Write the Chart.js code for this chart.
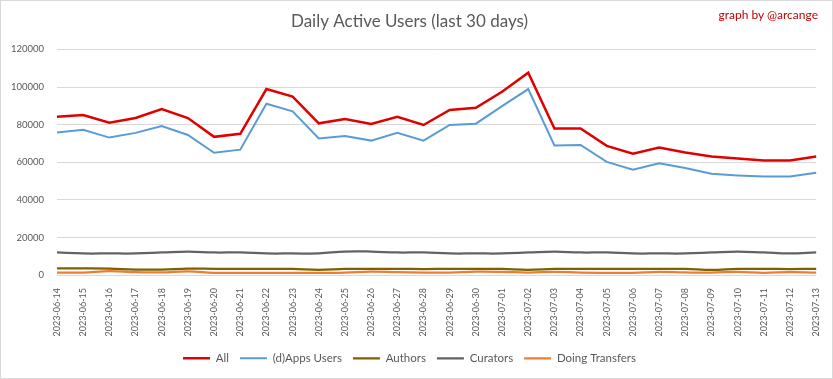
<!DOCTYPE html>
<html>
<head>
<meta charset="utf-8">
<script src="https://cdn.jsdelivr.net/npm/chart.js@4/dist/chart.umd.min.js"></script>
<style>
  html, body { margin: 0; padding: 0; background: #fff; }
  #wrap { position: relative; width: 833px; height: 379px; box-sizing: border-box; border: 1px solid #d9d9d9; background: #fff; }
  #credit { position: absolute; right: 14px; top: 6px; font-family: Lato, sans-serif; font-size: 12px; color: #c00000; }
  canvas { display: block; }
</style>
</head>
<body>
<div id="wrap">
  <canvas id="c" width="831" height="377"></canvas>
  <div id="credit">graph by @arcange</div>
</div>
<script>
const categories = [
  "2023-06-14","2023-06-15","2023-06-16","2023-06-17","2023-06-18","2023-06-19","2023-06-20","2023-06-21","2023-06-22","2023-06-23",
  "2023-06-24","2023-06-25","2023-06-26","2023-06-27","2023-06-28","2023-06-29","2023-06-30","2023-07-01","2023-07-02","2023-07-03",
  "2023-07-04","2023-07-05","2023-07-06","2023-07-07","2023-07-08","2023-07-09","2023-07-10","2023-07-11","2023-07-12","2023-07-13"
];
const allUsers = [84200, 85100, 81000, 83500, 88300, 83500, 73500, 75100, 98900, 94900,
  80700, 83000, 80400, 84100, 79800, 87800, 89000, 97500, 107600, 77900,
  77900, 68700, 64500, 67800, 65200, 63000, 62000, 60900, 60900, 63000];
const appsUsers = [75800, 77300, 73100, 75600, 79300, 74500, 65000, 66700, 91100, 87100,
  72600, 74000, 71500, 75600, 71500, 79800, 80500, 89800, 98900, 68900,
  69200, 60200, 56000, 59500, 56900, 53900, 53000, 52400, 52400, 54400];
const authors = [3500, 3500, 3400, 2900, 2900, 3400, 3300, 3300, 3300, 3300,
  2800, 3300, 3300, 3300, 3200, 3300, 3300, 3300, 2800, 3300,
  3300, 3300, 3300, 3300, 3300, 2700, 3300, 3300, 3200, 3300];
const curators = [12000, 11500, 11500, 11500, 12000, 12500, 12000, 12000, 11500, 11500,
  11500, 12500, 12500, 12000, 12000, 11500, 11500, 11500, 12000, 12500,
  12000, 12000, 11500, 11500, 11500, 12000, 12500, 12000, 11500, 12000];
const transfers = [1300, 1300, 2100, 1500, 1400, 2000, 1200, 1200, 1200, 1200,
  1200, 1300, 1800, 1500, 1300, 1300, 1800, 1700, 1300, 1700,
  1300, 1200, 1200, 1700, 1400, 1300, 1700, 1200, 1600, 1300];
const yTicks = [0, 20000, 40000, 60000, 80000, 100000, 120000];

const FONT = "Lato, 'Open Sans', sans-serif";
const TXT = "#595959";

function ds(label, data, color, width, tension) {
  return { label, data, borderColor: color, backgroundColor: color, borderWidth: width,
    pointRadius: 0, pointHoverRadius: 0, tension: tension, fill: false };
}

new Chart(document.getElementById('c'), {
  type: 'line',
  data: {
    labels: categories,
    datasets: [
      ds('All', allUsers, '#e00000', 2.5, 0),
      ds('(d)Apps Users', appsUsers, '#5b9bd5', 2, 0),
      ds('Authors', authors, '#7f6000', 2.25, 0.4),
      ds('Curators', curators, '#636363', 2.25, 0.4),
      ds('Doing Transfers', transfers, '#ed7d31', 2.25, 0.4)
    ]
  },
  options: {
    responsive: false,
    animation: false,
    layout: { padding: { left: 0, right: 14, top: 0, bottom: 4 } },
    plugins: {
      title: {
        display: true,
        text: 'Daily Active Users (last 30 days)',
        color: TXT,
        font: { family: FONT, size: 17, weight: 'normal' },
        padding: { top: 10, bottom: 18 }
      },
      legend: {
        position: 'bottom',
        labels: {
          font: { family: FONT, size: 11.5 },
          color: TXT,
          usePointStyle: true,
          pointStyle: 'line',
          pointStyleWidth: 27,
          boxWidth: 27,
          boxHeight: 8,
          padding: 11
        }
      },
      tooltip: { enabled: false }
    },
    scales: {
      x: {
        grid: { display: false },
        border: { display: false },
        ticks: {
          color: TXT, font: { family: FONT, size: 9 },
          minRotation: 90, maxRotation: 90, autoSkip: false, padding: 5
        }
      },
      y: {
        min: 0, max: 120000,
        afterBuildTicks: (s) => { s.ticks = yTicks.map(v => ({ value: v })); },
        afterFit: (s) => { s.width = 56; },
        grid: { color: '#d9d9d9', lineWidth: 1, drawTicks: false },
        border: { display: false },
        ticks: { color: TXT, font: { family: FONT, size: 9.5 }, padding: 13, callback: (v) => String(v) }
      }
    }
  }
});
</script>
</body>
</html>
